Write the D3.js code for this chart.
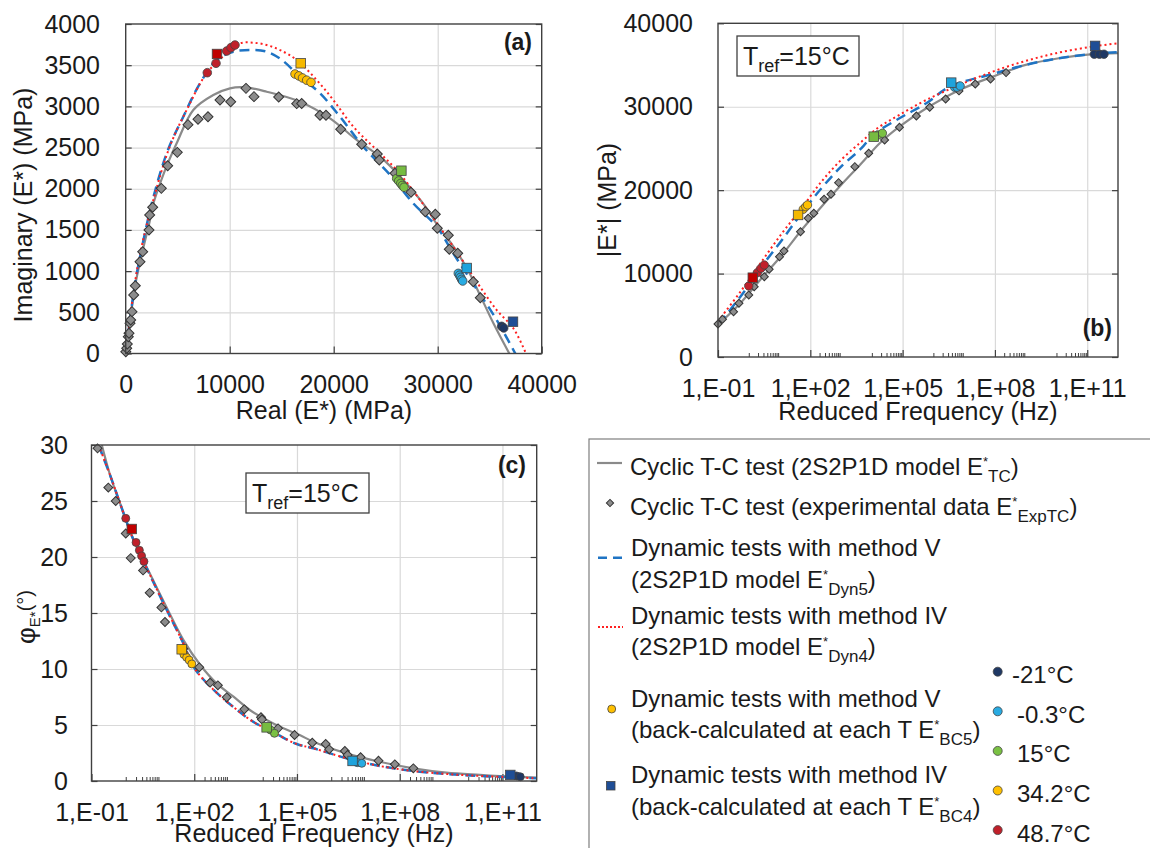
<!DOCTYPE html>
<html>
<head>
<meta charset="utf-8">
<script src="https://cdn.jsdelivr.net/npm/d3@7"></script>
<style>
body{margin:0;background:#fff;}
text{font-family:Arial,"Liberation Sans",sans-serif;fill:#1a1a1a;}
</style>
</head>
<body>
<div id="container"></div>
<script>
// temperatures and marker colours
let temps = ["-21°C", "-0.3°C", "15°C", "34.2°C", "48.7°C"];
let circleColors = ["#1f3864", "#29abe2", "#7ac143", "#ffc000", "#c0202a"];
let squareColors = ["#1f4e96", "#1ea3dc", "#77bb41", "#f5b800", "#c00000"];

// (a) Cole-Cole plane: [E1, E2] in MPa
let expCole = [[10,22],[96,63],[154,115],[250,204],[317,245],[413,367],[481,407],[606,508],[769,710],[923,823],
  [1375,1114],[1634,1236],[2240,1499],[2307,1681],[2594,1775],[3424,2005],[4036,2280],[4960,2442],[5990,2778],
  [6952,2843],[7913,2875],[9067,3077],[10096,3057],[11567,3219],[12336,3118],[14711,3114],[16442,3033],[16923,3035],
  [18682,2892],[19259,2892],[20673,2722],[22692,2540],[24192,2422],[24384,2349],[25894,2188],[27432,1957],
  [28807,1721],[29769,1690],[29961,1520],[31019,1435],[31115,1265],[31923,1216],[33423,872],[34096,677]];
let tcCole = [[0,0],[400,380],[900,820],[1500,1180],[2300,1600],[2594,1790],[3700,2200],[4900,2552],[6500,2956],
  [8425,3138],[10029,3219],[11470,3231],[13557,3178],[16760,3057],[19644,2855],[22208,2592],[24452,2389],
  [26692,2106],[28940,1763],[29961,1560],[31500,1300],[33000,990],[34066,710],[35345,370],[36885,0]];
let dyn5Cole = [[0,0],[400,400],[900,850],[1500,1250],[2594,1864],[4000,2450],[5538,2875],[7144,3280],[8750,3563],
  [10346,3664],[11951,3684],[13557,3664],[15000,3565],[16760,3361],[18683,3159],[20606,2875],[22846,2511],
  [25413,2170],[27652,1823],[29907,1539],[31500,1216],[33500,830],[35670,407],[37460,0]];
let dyn4Cole = [[0,0],[400,410],[900,870],[1500,1280],[2658,1864],[4200,2500],[5860,2956],[7785,3401],[9711,3644],
  [10990,3765],[12272,3773],[13557,3745],[14837,3684],[16442,3563],[18364,3320],[19965,3077],[21888,2753],
  [24132,2470],[26057,2228],[28297,1864],[30500,1480],[32790,1054],[34066,811],[35670,528],[37270,306],[38490,0]];
let bc5Cole = [[36150,330,0],[36350,310,0],
  [31981,973,1],[32100,950,1],[32200,925,1],[32300,900,1],[32404,880,1],
  [26057,2125,2],[26250,2095,2],[26450,2065,2],[26600,2040,2],[26760,2018,2],
  [16279,3393,3],[16650,3370,3],[17000,3345,3],[17400,3318,3],[17817,3292,3],
  [7846,3409,4],[8683,3523,4],[9711,3672,4],[10125,3713,4],[10509,3745,4]];
let bc4Cole = [[37240,386,0],[32788,1038,1],[26509,2219,2],[16826,3523,3],[8778,3636,4]];

// (b) norm of E* vs reduced frequency: [Hz, MPa]
let expNorm = [[0.10,3957],[0.14,4520],[0.32,5432],[0.48,6438],[1.0,7434],[1.5,8430],[3.2,9628],[4.6,10509],
  [10,12026],[14,12710],[48,15022],[85,16630],[130,17228],[280,18908],[470,19508],[830,20898],[2800,22817],
  [7900,24424],[2.6e4,26018],[7.9e4,27540],[2.8e5,28897],[7.6e5,29940],[2.5e6,30935],[6.8e6,31895],
  [2.3e7,32733],[7.2e7,33330],[2.3e8,34090]];
let tcNorm = [[0.1,3850],[0.59,6630],[2.6,9436],[12,12230],[52,15227],[230,18020],[1000,20620],[4600,23225],
  [1.8e4,25620],[7.9e4,27612],[5.9e5,29815],[7.1e6,32010],[8.5e7,33610],[1e9,35010],[1.2e10,35813],
  [1.5e11,36294],[1e12,36413]];
let dyn5Norm = [[0.1,4100],[0.13,4436],[0.59,7434],[2.6,10827],[12,14028],[52,17229],[230,20227],[1000,22817],
  [4600,25024],[1.1e4,26620],[7.9e4,28620],[5.9e5,30420],[3.4e6,32400],[8.5e7,33930],[1e9,35010],
  [1.2e10,35813],[1.5e11,36334],[1e12,36534]];
let dyn4Norm = [[0.1,4300],[0.13,4832],[0.59,8034],[2.6,11426],[12,14832],[52,17829],[230,21018],[1000,23620],
  [4600,25815],[1.8e4,27612],[7.9e4,29016],[5.9e5,30815],[7.1e6,32613],[8.5e7,34210],[1e9,35490],
  [1.2e10,36490],[1.5e11,37210],[1e12,37610]];
let bc5Norm = [[1.7e11,36294,0],[2.5e11,36294,0],[3.5e11,36294,0],
  [4.9e6,32335,1],[5.9e6,32335,1],[7.4e6,32490,1],
  [1.6e4,26620,2],[2.2e4,26820,2],
  [59,17710,3],[71,18021,3],[81,18225,3],
  [1.0,8514,4],[1.9,10108,4],[2.5,10635,4],[3.2,11031,4]];
let bc4Norm = [[1.8e11,37290,0],[3.8e6,32890,1],[1.15e4,26414,2],[40,17026,3],[1.35,9508,4]];

// (c) phase angle vs reduced frequency: [Hz, degrees]
let expPhase = [[0.15,29.7],[0.31,26.2],[0.51,25.0],[1.0,22.1],[1.4,19.9],[3.2,18.8],[5.0,16.8],[11,15.5],
  [14,14.2],[48,11.8],[140,10.15],[290,8.78],[490,8.54],[890,7.47],[2900,6.40],[8900,5.69],[9500,5.5],
  [2.8e4,4.70],[8.5e4,4.11],[2.8e5,3.42],[6.9e5,3.30],[8.7e5,2.83],[2.5e6,2.68],[3.0e6,2.32],[7.2e6,2.12],
  [2.4e7,1.81],[7.2e7,1.49],[2.5e8,1.13]];
let tcPhase = [[0.2,30],[0.35,27.3],[0.68,24.8],[1.7,21.5],[5.1,18.5],[15,15.6],[48,12.6],[150,10.36],[450,8.72],
  [1400,7.53],[4200,6.34],[1.3e4,5.45],[4e4,4.7],[1.2e5,4.1],[3e5,3.51],[2.8e6,2.47],[2.6e7,1.72],[2.5e8,1.13],
  [2.3e9,0.74],[2.2e10,0.54],[2e11,0.38],[1e12,0.3]];
let dyn5Phase = [[0.16,30],[0.35,27.3],[0.68,24.8],[1.7,21.5],[5.1,18.4],[15,15.4],[48,12.3],[100,10.1],
  [350,8.2],[1400,6.6],[5200,5.3],[2.5e4,4.2],[9.8e4,3.3],[3e5,2.92],[2.8e6,2.03],[2.6e7,1.34],[2.5e8,0.89],
  [2.3e9,0.63],[2.2e10,0.45],[2e11,0.33],[1e12,0.24]];
let dyn4Phase = [[0.16,30],[0.35,27.3],[0.68,24.8],[1.7,21.5],[5.1,18.4],[15,15.4],[48,12.3],[100,10.1],
  [350,8.2],[1400,6.6],[5200,5.3],[2.5e4,4.2],[9.8e4,3.3],[3e5,2.92],[2.8e6,2.03],[2.6e7,1.34],[2.5e8,0.89],
  [2.3e9,0.63],[2.2e10,0.45],[2e11,0.33],[1e12,0.24]];
let bc5Phase = [[2.6e11,0.45,0],[3.3e11,0.38,0],
  [5.8e6,1.64,1],[7.8e6,1.58,1],
  [1.7e4,4.55,2],[2.2e4,4.26,2],
  [50,11.3,3],[60,11.04,3],[71,10.8,3],[85,10.45,3],
  [1.0,23.45,4],[2.0,21.3,4],[2.5,20.6,4],[2.9,20.1,4],[3.4,19.6,4]];
let bc4Phase = [[1.7e11,0.54,0],[4.2e6,1.79,1],[1.3e4,4.79,2],[43,11.76,3],[1.5,22.5,4]];

// axis ticks
let linTicksA = [0, 10000, 20000, 30000, 40000];
let yTicksA = [0, 500, 1000, 1500, 2000, 2500, 3000, 3500, 4000];
let yTicksB = [0, 10000, 20000, 30000, 40000];
let yTicksC = [0, 5, 10, 15, 20, 25, 30];
let logMajors = [1e-1, 1e2, 1e5, 1e8, 1e11];
let minorStarts = [[1, 1], [100, 2], [1e4, 1], [1e6, 1], [1e8, 2], [1e10, 1]];
let logMinors = [];
minorStarts.forEach(function (m) {
  for (let k = m[1]; k <= 9; k++) logMinors.push(m[0] * k);
});

let w = 1150;
let h = 848;
let svg = d3.select("#container")
  .append("svg")
  .attr("width", w)
  .attr("height", h)
  .style("display", "block");

svg.append("rect").attr("width", w).attr("height", h).attr("fill", "#fff");

function logFmt(v) {
  let e = Math.round(Math.log10(v));
  return "1,E" + (e < 0 ? "-" : "+") + String(Math.abs(e)).padStart(2, "0");
}

function cleanAxis(a) {
  a.select(".domain").remove();
  a.attr("font-size", null).attr("font-family", null);
}

function drawPanel(p) {
  let x = p.x, y = p.y;
  let x0 = x.range()[0], x1 = x.range()[1];
  let y0 = y.range()[1], y1 = y.range()[0];
  let g = svg.append("g");

  svg.append("clipPath").attr("id", "clip" + p.name)
    .append("rect").attr("x", x0).attr("y", y0).attr("width", x1 - x0).attr("height", y1 - y0);

  // gridlines
  g.append("g").attr("transform", "translate(0," + y1 + ")")
    .call(d3.axisBottom(x).tickValues(p.xGrid).tickSize(-(y1 - y0)).tickFormat(""))
    .call(cleanAxis)
    .selectAll("line").attr("stroke", "#d9d9d9").attr("stroke-width", 1.2);
  g.append("g").attr("transform", "translate(" + x0 + ",0)")
    .call(d3.axisLeft(y).tickValues(p.yGrid).tickSize(-(x1 - x0)).tickFormat(""))
    .call(cleanAxis)
    .selectAll("line").attr("stroke", "#d9d9d9").attr("stroke-width", 1.2);

  // inner ticks
  let tickCol = "#404040";
  g.append("g").attr("transform", "translate(0," + y1 + ")")
    .call(d3.axisBottom(x).tickValues(p.xTicks).tickSize(-7).tickFormat(""))
    .call(cleanAxis)
    .selectAll("line").attr("stroke", tickCol).attr("stroke-width", 1.2);
  if (p.xMinor) {
    g.append("g").attr("transform", "translate(0," + y1 + ")")
      .call(d3.axisBottom(x).tickValues(p.xMinor).tickSize(-4).tickFormat(""))
      .call(cleanAxis)
      .selectAll("line").attr("stroke", tickCol).attr("stroke-width", 1);
  }
  g.append("g").attr("transform", "translate(" + x0 + ",0)")
    .call(d3.axisLeft(y).tickValues(p.yTicks).tickSize(-6).tickFormat(""))
    .call(cleanAxis)
    .selectAll("line").attr("stroke", tickCol).attr("stroke-width", 1.2);
  g.append("g").attr("transform", "translate(" + x1 + ",0)")
    .call(d3.axisRight(y).tickValues(p.yTicks).tickSize(-6).tickFormat(""))
    .call(cleanAxis)
    .selectAll("line").attr("stroke", tickCol).attr("stroke-width", 1.2);

  // tick labels
  g.append("g").attr("transform", "translate(0," + y1 + ")")
    .call(d3.axisBottom(x).tickValues(p.xTicks).tickSize(0).tickPadding(22).tickFormat(p.xFmt))
    .call(cleanAxis)
    .selectAll("text").style("font-size", "25px");
  g.append("g").attr("transform", "translate(" + x0 + ",0)")
    .call(d3.axisLeft(y).tickValues(p.yTicks).tickSize(0).tickPadding(p.yPad).tickFormat(d3.format("d")))
    .call(cleanAxis)
    .selectAll("text").style("font-size", "25px");

  // model curves
  let line = d3.line().x(d => x(d[0])).y(d => y(d[1])).curve(d3.curveCatmullRom.alpha(0.5));
  let lines = g.append("g").attr("clip-path", "url(#clip" + p.name + ")");
  lines.append("path").datum(p.tc).attr("d", line)
    .attr("fill", "none").attr("stroke", "#8a8a8a").attr("stroke-width", 2.2);
  lines.append("path").datum(p.dyn5).attr("d", line)
    .attr("fill", "none").attr("stroke", "#1f74c4").attr("stroke-width", 2.5).attr("stroke-dasharray", "10,6");
  lines.append("path").datum(p.dyn4).attr("d", line)
    .attr("fill", "none").attr("stroke", "#ff2020").attr("stroke-width", 2).attr("stroke-dasharray", "2,3");

  // experimental diamonds
  g.append("g").selectAll("path").data(p.exp).join("path")
    .attr("d", d3.symbol().type(d3.symbolSquare).size(p.dSize))
    .attr("transform", d => "translate(" + x(d[0]) + "," + y(d[1]) + ") rotate(45)")
    .attr("fill", "#8c8c8c").attr("stroke", "#333").attr("stroke-width", 1);

  // back-calculated points
  g.append("g").selectAll("circle").data(p.bc5).join("circle")
    .attr("cx", d => x(d[0])).attr("cy", d => y(d[1])).attr("r", p.r)
    .attr("fill", d => circleColors[d[2]]).attr("stroke", "#444").attr("stroke-width", 0.8);
  g.append("g").selectAll("rect").data(p.bc4).join("rect")
    .attr("x", d => x(d[0]) - 4.75).attr("y", d => y(d[1]) - 4.75)
    .attr("width", 9.5).attr("height", 9.5)
    .attr("fill", d => squareColors[d[2]]).attr("stroke", "#444").attr("stroke-width", 0.8);

  // frame
  g.append("rect").attr("x", x0).attr("y", y0).attr("width", x1 - x0).attr("height", y1 - y0)
    .attr("fill", "none").attr("stroke", "#404040").attr("stroke-width", 1.4);

  return g;
}

let xA = d3.scaleLinear().domain([0, 40000]).range([125.7, 541.7]);
let yA = d3.scaleLinear().domain([0, 4000]).range([353.5, 24]);
let xB = d3.scaleLog().domain([0.1, 1e12]).range([718, 1118]);
let yB = d3.scaleLinear().domain([0, 40000]).range([357, 23.3]);
let xC = d3.scaleLog().domain([0.1, 1e12]).range([91.5, 536.7]);
let yC = d3.scaleLinear().domain([0, 30]).range([781, 445]);

let pA = drawPanel({
  name: "a", x: xA, y: yA,
  xTicks: linTicksA, xGrid: linTicksA.slice(1, -1), yTicks: yTicksA, yGrid: yTicksA.slice(1, -1),
  xFmt: d3.format("d"), yPad: 25.7,
  tc: tcCole, dyn5: dyn5Cole, dyn4: dyn4Cole, exp: expCole, bc5: bc5Cole, bc4: bc4Cole,
  dSize: 50, r: 4.3
});
let pB = drawPanel({
  name: "b", x: xB, y: yB,
  xTicks: logMajors, xGrid: logMajors.slice(1), xMinor: logMinors, yTicks: yTicksB, yGrid: yTicksB.slice(1, -1),
  xFmt: logFmt, yPad: 25,
  tc: tcNorm, dyn5: dyn5Norm, dyn4: dyn4Norm, exp: expNorm, bc5: bc5Norm, bc4: bc4Norm,
  dSize: 32, r: 4.2
});
let pC = drawPanel({
  name: "c", x: xC, y: yC,
  xTicks: logMajors, xGrid: logMajors.slice(1), xMinor: logMinors, yTicks: yTicksC, yGrid: yTicksC.slice(1, -1),
  xFmt: logFmt, yPad: 23.5,
  tc: tcPhase, dyn5: dyn5Phase, dyn4: dyn4Phase, exp: expPhase, bc5: bc5Phase, bc4: bc4Phase,
  dSize: 40, r: 4
});

// axis titles
svg.append("text").attr("transform", "translate(32,205) rotate(-90)")
  .attr("text-anchor", "middle").style("font-size", "25px").text("Imaginary (E*)  (MPa)");
svg.append("text").attr("x", 324).attr("y", 419)
  .attr("text-anchor", "middle").style("font-size", "25px").text("Real (E*) (MPa)");
svg.append("text").attr("transform", "translate(616,200) rotate(-90)")
  .attr("text-anchor", "middle").style("font-size", "25px").text("|E*| (MPa)");
svg.append("text").attr("x", 918).attr("y", 420)
  .attr("text-anchor", "middle").style("font-size", "25px").text("Reduced Frequency (Hz)");
svg.append("text").attr("x", 314).attr("y", 842)
  .attr("text-anchor", "middle").style("font-size", "25px").text("Reduced Frequency (Hz)");

let phiLabel = svg.append("text").attr("transform", "translate(35,617) rotate(-90)")
  .attr("text-anchor", "middle").style("font-size", "26px");
phiLabel.append("tspan").text("φ");
phiLabel.append("tspan").attr("dy", 5).style("font-size", "15px").text("E*");
phiLabel.append("tspan").attr("dy", -8).style("font-size", "20px").text("(°)");

// panel letters
svg.append("text").attr("x", 532).attr("y", 50).attr("text-anchor", "end")
  .style("font-size", "23px").style("font-weight", "bold").text("(a)");
svg.append("text").attr("x", 1112).attr("y", 336).attr("text-anchor", "end")
  .style("font-size", "23px").style("font-weight", "bold").text("(b)");
svg.append("text").attr("x", 526).attr("y", 473).attr("text-anchor", "end")
  .style("font-size", "23px").style("font-weight", "bold").text("(c)");

// Tref boxes
function trefBox(bx, by, bw, bh) {
  svg.append("rect").attr("x", bx).attr("y", by).attr("width", bw).attr("height", bh)
    .attr("fill", "#fff").attr("stroke", "#404040").attr("stroke-width", 1.3);
  let t = svg.append("text").attr("x", bx + 6).attr("y", by + 29).style("font-size", "25px");
  t.append("tspan").text("T");
  t.append("tspan").attr("dy", 7).style("font-size", "18px").text("ref");
  t.append("tspan").attr("dy", -7).text("=15°C");
}
trefBox(737, 36, 122, 40);
trefBox(246, 473, 123, 40);

// legend
svg.append("rect").attr("x", 589).attr("y", 439).attr("width", 600).attr("height", 500)
  .attr("fill", "none").attr("stroke", "#7f7f7f").attr("stroke-width", 1.2);

function legendText(tx, ty, parts) {
  let t = svg.append("text").attr("x", tx).attr("y", ty).style("font-size", "24px");
  let shift = 0;
  parts.forEach(function (p) {
    let s = t.append("tspan").text(p[0]);
    let target = p[1] === "sup" ? -9 : p[1] === "sub" ? 7 : 0;
    if (target !== shift) s.attr("dy", target - shift);
    shift = target;
    if (p[1] === "sup") s.style("font-size", "13px");
    if (p[1] === "sub") s.style("font-size", "17px");
  });
}

svg.append("line").attr("x1", 597).attr("x2", 622).attr("y1", 463).attr("y2", 463)
  .attr("stroke", "#8a8a8a").attr("stroke-width", 2.2);
legendText(630, 475, [["Cyclic T-C test (2S2P1D model E"], ["*", "sup"], ["TC", "sub"], [")"]]);

svg.append("path").attr("d", d3.symbol().type(d3.symbolSquare).size(26)())
  .attr("transform", "translate(610,503) rotate(45)")
  .attr("fill", "#8c8c8c").attr("stroke", "#333").attr("stroke-width", 1);
legendText(630, 515, [["Cyclic T-C test (experimental data E"], ["*", "sup"], ["ExpTC", "sub"], [")"]]);

svg.append("line").attr("x1", 598).attr("x2", 623).attr("y1", 557.7).attr("y2", 557.7)
  .attr("stroke", "#1f74c4").attr("stroke-width", 2.5).attr("stroke-dasharray", "9,6");
legendText(631, 556, [["Dynamic tests with method V"]]);
legendText(631, 588, [["(2S2P1D model E"], ["*", "sup"], ["Dyn5", "sub"], [")"]]);

svg.append("line").attr("x1", 598).attr("x2", 623).attr("y1", 627).attr("y2", 627)
  .attr("stroke", "#ff2020").attr("stroke-width", 2).attr("stroke-dasharray", "2,2");
legendText(631, 624, [["Dynamic tests with method IV"]]);
legendText(631, 655, [["(2S2P1D model E"], ["*", "sup"], ["Dyn4", "sub"], [")"]]);

svg.append("circle").attr("cx", 611.7).attr("cy", 709).attr("r", 4)
  .attr("fill", circleColors[3]).attr("stroke", "#444").attr("stroke-width", 0.8);
legendText(631, 707, [["Dynamic tests with method V"]]);
legendText(631, 738, [["(back-calculated at each T E"], ["*", "sup"], ["BC5", "sub"], [")"]]);

svg.append("rect").attr("x", 606.5).attr("y", 781.5).attr("width", 8.5).attr("height", 8.5)
  .attr("fill", squareColors[0]).attr("stroke", "#444").attr("stroke-width", 0.8);
legendText(631, 783, [["Dynamic tests with method IV"]]);
legendText(631, 815, [["(back-calculated at each T E"], ["*", "sup"], ["BC4", "sub"], [")"]]);

let tempLeg = svg.append("g");
temps.forEach(function (t, i) {
  let cy = 671.7 + i * 39.6;
  tempLeg.append("circle").attr("cx", 997.7).attr("cy", cy).attr("r", 4.5)
    .attr("fill", circleColors[i]).attr("stroke", "#444").attr("stroke-width", 0.8);
  tempLeg.append("text").attr("x", i === 0 ? 1012 : 1017).attr("y", cy + 11.5)
    .style("font-size", "24px").text(t);
});
</script>
</body>
</html>
